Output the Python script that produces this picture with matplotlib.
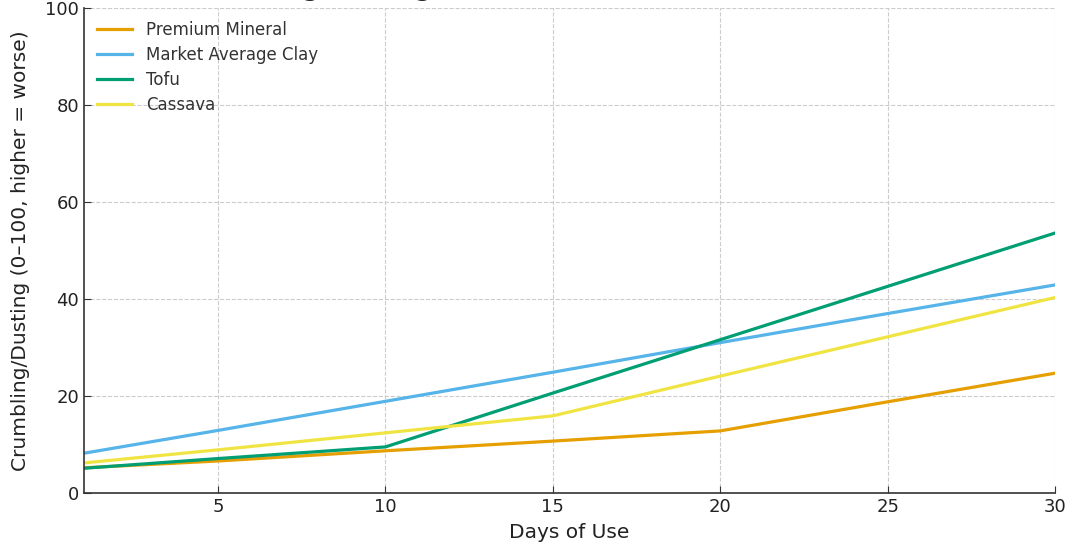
import matplotlib
matplotlib.use('Agg')
import matplotlib.pyplot as plt

# days sampled
days = [1, 5, 10, 15, 20, 25, 30]

# crumbling/dusting score per litter type
premium_mineral = [5.2, 6.6, 8.7, 10.7, 12.8, 18.8, 24.7]
market_clay = [8.2, 12.9, 18.9, 24.9, 31.0, 37.0, 42.9]
tofu = [5.1, 7.1, 9.5, 20.6, 31.6, 42.6, 53.6]
cassava = [6.2, 8.9, 12.4, 15.9, 24.1, 32.2, 40.3]

labels = ['Premium Mineral', 'Market Average Clay', 'Tofu', 'Cassava']
colors = ['#E69F00', '#56B4E9', '#009E73', '#F0E442']

fig = plt.figure(figsize=(10.8, 5.58), dpi=100)
ax = fig.add_axes([0.0778, 0.1165, 0.8991, 0.8692])

for ys, lab, col in zip([premium_mineral, market_clay, tofu, cassava], labels, colors):
    ax.plot(days, ys, color=col, lw=2.3, label=lab)

ax.set_xlim(1, 30)
ax.set_ylim(0, 100)
ax.set_xticks([5, 10, 15, 20, 25, 30])
ax.set_yticks([0, 20, 40, 60, 80, 100])
ax.tick_params(direction='in', length=5, labelsize=13, colors='#333333', labelcolor='#222222')
ax.grid(True, linestyle='--', color='#cccccc', linewidth=0.8)
for s in ['top', 'right']:
    ax.spines[s].set_visible(False)
for s in ['left', 'bottom']:
    ax.spines[s].set_color('#333333')
    ax.spines[s].set_linewidth(1.2)

ax.set_xlabel('Days of Use', fontsize=14.5, color='#222222', labelpad=5)
ax.set_ylabel('Crumbling/Dusting (0\u2013100, higher = worse)', fontsize=14.5, color='#222222', labelpad=11)

# title sits mostly above the top edge, only the descenders show (as in the reference)
fig.text(182 / 1080, 1.0075, 'Crumbling/Dusting Over Time Across Litter Materials',
         fontsize=17, fontweight='bold', ha='left', va='baseline', color='#222222')

leg = ax.legend(loc='upper left', frameon=False, fontsize=12, handlelength=2.1, labelspacing=0.42,
                borderaxespad=0.4)
for t in leg.get_texts():
    t.set_color('#333333')

fig.savefig('out.png', dpi=100)
